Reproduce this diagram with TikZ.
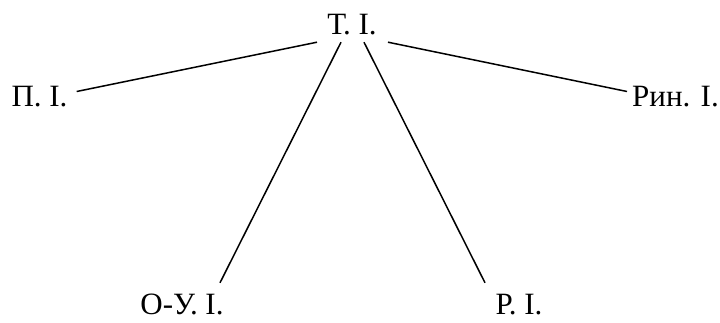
\documentclass[tikz,border=0pt]{standalone}
\usepackage{fontspec}
\setmainfont{Liberation Serif}
\newfontfamily\lblfont{Liberation Serif}
\usepackage{tikz}
\usetikzlibrary{positioning,calc}

\tikzset{
  lbl/.style={anchor=base, inner xsep=6pt, inner ysep=4pt, text height=31pt, text depth=0pt,
    font=\lblfont\fontsize{31}{36}\selectfont},
  lnk/.style={line width=1.5pt}
}

\begin{document}
\begin{tikzpicture}[x=1pt,y=1pt]
            \useasboundingbox (0,0) rectangle (720,322);

            \node[lbl] (ti) at (352,287) {Т. І.};
            \node[lbl] (pi) at (39.5,215) {П. І.};
            \node[lbl] (rin) at (675.5,215) {Рин. І.};
            \node[lbl] (ou) at (182,8) {О-У. І.};
            \node[lbl] (ri) at (519,8) {Р. І.};

            \draw[lnk] ([xshift=-35pt,yshift=-3pt]ti.south) -- ([xshift=3pt]pi.east);
            \draw[lnk] ([xshift=-11pt,yshift=-3pt]ti.south) -- ([xshift=38pt,yshift=-4pt]ou.north);
            \draw[lnk] ([xshift=12pt,yshift=-3pt]ti.south) -- ([xshift=-34pt,yshift=-4pt]ri.north);
            \draw[lnk] ([xshift=36pt,yshift=-3pt]ti.south) -- ([xshift=1pt]rin.west);
        \end{tikzpicture}
\end{document}
